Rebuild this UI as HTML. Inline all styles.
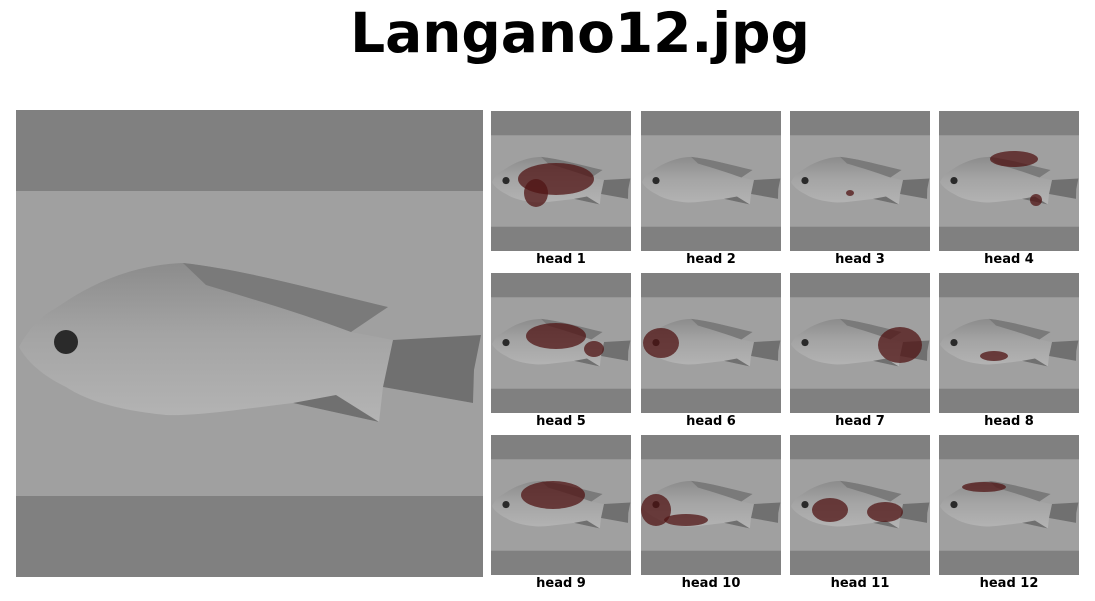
<!DOCTYPE html>
<html><head><meta charset="utf-8"><style>
html,body{margin:0;padding:0;background:#fff;}
body{width:1095px;height:601px;position:relative;overflow:hidden;font-family:"DejaVu Sans","Liberation Sans",sans-serif;}
.t{position:absolute;font-weight:bold;}
.lbl{position:absolute;font-weight:bold;font-size:13px;width:140px;text-align:center;}
</style></head><body>
<svg width="0" height="0" style="position:absolute">
<defs>
<linearGradient id="bodyg" x1="0" y1="0" x2="0" y2="1">
<stop offset="0" stop-color="#8c8c8c"/><stop offset="0.45" stop-color="#a4a4a4"/><stop offset="1" stop-color="#b4b4b4"/>
</linearGradient>
<symbol id="fishimg" viewBox="0 0 467 467">
<rect x="0" y="0" width="467" height="467" fill="#808080"/>
<rect x="0" y="81" width="467" height="305" fill="#a0a0a0"/>
<path d="M3,237 C15,215 27,205 40,198 C80,170 120,155 167,153 C230,160 300,180 372,197 L335,222 L377,230 L465,225 L458,260 L457,293 L367,277 L363,312 L277,293 C220,300 180,306 150,305 C100,300 70,290 50,277 C25,265 10,250 3,237 Z" fill="url(#bodyg)"/>
<path d="M167,153 C230,160 300,180 372,197 L335,222 C290,205 240,190 190,175 Z" fill="#7a7a7a"/>
<path d="M377,230 L465,225 L458,260 L457,293 L367,277 Z" fill="#707070"/>
<path d="M277,293 L363,312 L320,285 Z" fill="#707070"/>
<circle cx="50" cy="232" r="12" fill="#2a2a2a"/>
</symbol>
</defs>
</svg>
<div class="t" style="left:0;width:1160px;text-align:center;top:1px;font-size:55px;">Langano12.jpg</div>
<svg style="position:absolute;left:16px;top:110px" width="467" height="467"><use href="#fishimg" width="467" height="467"/></svg>
<div id="grid"></div>
<script>
const heads=["head 1","head 2","head 3","head 4","head 5","head 6","head 7","head 8","head 9","head 10","head 11","head 12"];
const blobs=[
[[65,68,38,16],[45,82,12,14]],
[],
[[60,82,4,3]],
[[75,48,24,8],[97,89,6,6]],
[[65,63,30,13],[103,76,10,8]],
[[20,70,18,15]],
[[110,72,22,18]],
[[55,83,14,5]],
[[62,60,32,14]],
[[15,75,15,16],[45,85,22,6]],
[[40,75,18,12],[95,77,18,10]],
[[45,52,22,5]]
];
const colX=[491,641,790,939], rowY=[111,273,435];
const grid=document.getElementById('grid');
heads.forEach((h,i)=>{
 const x=colX[i%4], y=rowY[Math.floor(i/4)];
 const ns='http://www.w3.org/2000/svg';
 const s=document.createElementNS(ns,'svg');
 
 
 s.setAttribute('width',140);s.setAttribute('height',140);
 s.style.cssText='position:absolute;left:'+x+'px;top:'+y+'px';
 const u=document.createElementNS(ns,'use');
 u.setAttribute('href','#fishimg');u.setAttribute('width',140);u.setAttribute('height',140);
 s.appendChild(u);
 blobs[i].forEach(b=>{
  const e=document.createElementNS(ns,'ellipse');
  e.setAttribute('cx',b[0]);e.setAttribute('cy',b[1]);e.setAttribute('rx',b[2]);e.setAttribute('ry',b[3]);
  e.setAttribute('fill','rgba(80,20,20,0.75)');
  
  
  s.appendChild(e);
 });
 grid.appendChild(s);
 const l=document.createElement('div');
 l.className='lbl';
 
 
 l.style.left=x+'px';l.style.top=(y+141)+'px';
 l.textContent=h;
 grid.appendChild(l);
});
</script>
</body></html>
